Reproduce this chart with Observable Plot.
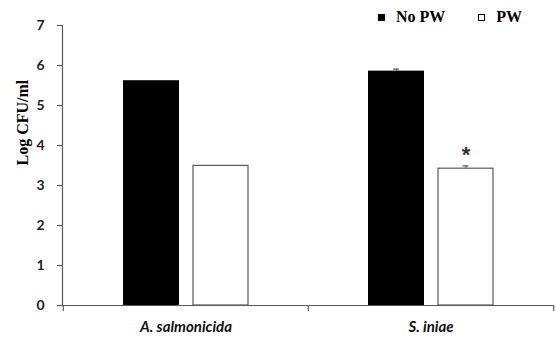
<!DOCTYPE html>
<html>
<head>
<meta charset="utf-8">
<script src="https://cdn.jsdelivr.net/npm/d3@7"></script>
<script src="https://cdn.jsdelivr.net/npm/@observablehq/plot@0.6"></script>
<style>
  html, body { margin: 0; padding: 0; background: #fff; }
  #wrap { position: relative; width: 556px; height: 337px; }
  #legend { position: absolute; top: 8px; left: 378px; font-family: "Liberation Serif", serif; font-weight: bold; font-size: 16px; color: #000; display: flex; align-items: center; white-space: nowrap; }
  .sw { display: inline-block; width: 7px; height: 7px; box-sizing: border-box; margin-right: 11px; }
  .item { display: flex; align-items: center; }
</style>
</head>
<body>
<div id="wrap">
  <div id="chart"></div>
  <div id="legend"></div>
</div>
<script>
const categories = ["A. salmonicida", "S. iniae"];
const seriesNames = ["No PW", "PW"];
const noPW = [5.62, 5.86];
const pw = [3.49, 3.42];
const noPWErr = [0, 0.05];
const pwErr = [0, 0.07];
const significant = [false, true];
const yTicks = [0, 1, 2, 3, 4, 5, 6, 7];
const yLabel = "Log CFU/ml";

const noPWData = categories.map((c, i) => ({category: c, value: noPW[i], err: noPWErr[i]}));
const pwData = categories.map((c, i) => ({category: c, value: pw[i], err: pwErr[i], sig: significant[i]}));

const axisColor = "#595959";

const chart = Plot.plot({
  width: 556,
  height: 337,
  marginLeft: 62,
  marginRight: 3,
  marginTop: 25,
  marginBottom: 32,
  style: {background: "#fff", overflow: "visible"},
  x: {domain: categories, padding: 0, axis: null},
  y: {domain: [0, 7], axis: null},
  marks: [
    Plot.barY(noPWData, {x: "category", y: "value", fill: "#000", insetLeft: 60, insetRight: 129}),
    Plot.barY(pwData, {x: "category", y: "value", fill: "#fff", stroke: axisColor, strokeWidth: 1.2, insetLeft: 130, insetRight: 60}),
    Plot.ruleX(noPWData.filter(d => d.err > 0), {x: "category", y1: "value", y2: d => d.value + d.err, dx: -34.5, stroke: axisColor, strokeWidth: 1.2}),
    Plot.tickY(noPWData.filter(d => d.err > 0), {x: "category", y: d => d.value + d.err, insetLeft: 85, insetRight: 154, stroke: axisColor, strokeWidth: 1.2}),
    Plot.ruleX(pwData.filter(d => d.err > 0), {x: "category", y1: "value", y2: d => d.value + d.err, dx: 35, stroke: axisColor, strokeWidth: 1.2}),
    Plot.tickY(pwData.filter(d => d.err > 0), {x: "category", y: d => d.value + d.err, insetLeft: 154.5, insetRight: 84.5, stroke: axisColor, strokeWidth: 1.2}),
    Plot.text(pwData.filter(d => d.sig), {x: "category", y: d => d.value + d.err, text: () => "*", dx: 35, dy: -11, fontSize: 22, fontWeight: "bold", fontFamily: "Liberation Sans, sans-serif", fill: "#333"}),
    Plot.frame({anchor: "left", stroke: axisColor, strokeWidth: 1.2}),
    Plot.ruleY([0], {stroke: axisColor, strokeWidth: 1.2}),
    Plot.axisY({ticks: yTicks, tickFormat: "d", tickSize: 5, tickPadding: 13, stroke: axisColor, strokeWidth: 1.2, fontSize: 14, fontWeight: "bold", fontFamily: "Lato, sans-serif", fill: "#222", label: null}),
    Plot.axisX({ticks: categories, tickSize: 6, dx: -122.75, text: null, stroke: axisColor, strokeWidth: 1.2, label: null}),
    Plot.axisX({ticks: categories.slice(-1), tickSize: 6, dx: 122.75, text: null, stroke: axisColor, strokeWidth: 1.2, label: null}),
    Plot.axisX({ticks: categories, tickSize: 0, tickPadding: 16, fontSize: 15, fontWeight: "bold", fontStyle: "italic", fontFamily: "Lato, sans-serif", fill: "#111", label: null}),
    Plot.text([yLabel], {frameAnchor: "left", rotate: -90, dx: -40, text: d => d, fontSize: 16, fontWeight: "bold", fontFamily: "Liberation Serif, serif", fill: "#000"})
  ]
});
document.getElementById("chart").appendChild(chart);

const legend = document.getElementById("legend");
const fills = ["#000", "#fff"];
seriesNames.forEach((name, i) => {
  const item = document.createElement("span");
  item.className = "item";
  item.style.marginRight = i === 0 ? "33px" : "0";
  const sw = document.createElement("span");
  sw.className = "sw";
  sw.style.background = fills[i];
  sw.style.border = "1px solid #000";
  item.appendChild(sw);
  item.appendChild(document.createTextNode(name));
  legend.appendChild(item);
});
</script>
</body>
</html>
